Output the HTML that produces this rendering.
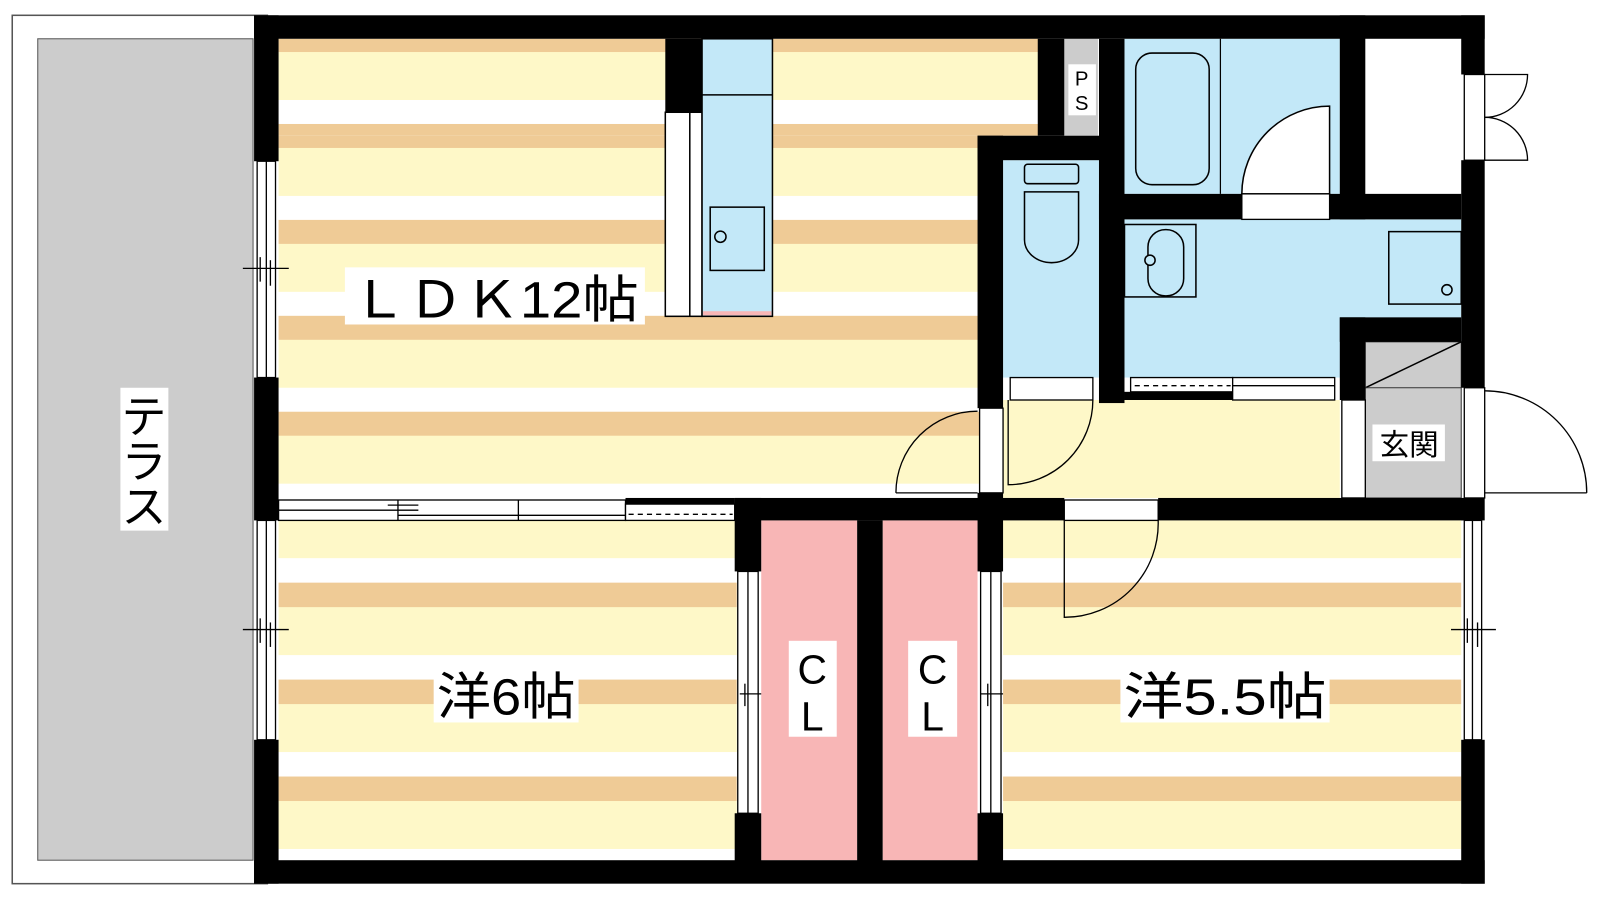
<!DOCTYPE html>
<html><head><meta charset="utf-8"><style>
html,body{margin:0;padding:0;background:#fff;width:1600px;height:900px;overflow:hidden}
svg{display:block}
text{font-family:"Liberation Sans","Noto Sans CJK JP",sans-serif;fill:#000}
</style></head><body>
<svg width="1600" height="900" viewBox="0 0 1568 882" xmlns="http://www.w3.org/2000/svg">
<defs>
<pattern id="pL" patternUnits="userSpaceOnUse" x="0" y="4" width="2000" height="94">
<rect width="2000" height="94" fill="#fef8c8"/><rect width="2000" height="23.5" fill="#fff"/><rect y="23.5" width="2000" height="23.5" fill="#efcb96"/>
</pattern>
<pattern id="pB" patternUnits="userSpaceOnUse" x="0" y="547" width="2000" height="95">
<rect width="2000" height="95" fill="#fef8c8"/><rect width="2000" height="24" fill="#fff"/><rect y="24" width="2000" height="24" fill="#efcb96"/>
</pattern>
</defs>
<!-- terrace -->
<rect x="12" y="15" width="250" height="851" fill="#fff" stroke="#555" stroke-width="1.5"/>
<rect x="37" y="38" width="211" height="805" fill="#ccc" stroke="#555" stroke-width="1"/>
<!-- floors -->
<rect x="273" y="38" width="745" height="95" fill="url(#pL)"/>
<rect x="273" y="133" width="687" height="355" fill="url(#pL)"/>
<rect x="273" y="510" width="449" height="333" fill="url(#pB)"/>
<rect x="983" y="510" width="449" height="333" fill="url(#pB)"/>
<rect x="746" y="510" width="94" height="333" fill="#f8b6b6"/>
<rect x="865" y="510" width="93" height="333" fill="#f8b6b6"/>
<rect x="983" y="392" width="330" height="96" fill="#fef8c8"/>
<rect x="983" y="157" width="94" height="213" fill="#c3e8f8"/>
<rect x="1102" y="38" width="211" height="152" fill="#c3e8f8"/>
<rect x="1102" y="215" width="330" height="155" fill="#c3e8f8"/>
<rect x="1338" y="38" width="94" height="152" fill="#fff"/>
<rect x="1043" y="38" width="33" height="95" fill="#ccc"/>
<rect x="1338" y="335" width="94" height="153" fill="#ccc" stroke="#333" stroke-width="1"/>
<line x1="1338" y1="380" x2="1432" y2="335" stroke="#000" stroke-width="1.5"/>
<line x1="1338" y1="380" x2="1432" y2="380" stroke="#333" stroke-width="1"/>
<!-- kitchen -->
<rect x="652" y="110" width="36" height="200" fill="#fff" stroke="#000" stroke-width="1.5"/>
<line x1="676" y1="110" x2="676" y2="310" stroke="#000" stroke-width="1.5"/>
<rect x="688" y="38" width="69" height="272" fill="#c3e8f8" stroke="#000" stroke-width="1.5"/>
<rect x="689" y="305" width="67" height="4" fill="#f8b6b6"/>
<line x1="688" y1="93" x2="757" y2="93" stroke="#000" stroke-width="1.5"/>
<rect x="696" y="203" width="53" height="62" fill="none" stroke="#000" stroke-width="1.5"/>
<circle cx="706" cy="232" r="5.5" fill="none" stroke="#000" stroke-width="1.5"/>
<!-- bath -->
<rect x="1113" y="52" width="72" height="129" rx="16" fill="none" stroke="#000" stroke-width="1.5"/>
<line x1="1196" y1="38" x2="1196" y2="190" stroke="#000" stroke-width="1.2"/>
<path d="M1303 190 L1217 190 A86 86 0 0 1 1303 104 Z" fill="#fff" stroke="#000" stroke-width="1.5"/>
<!-- toilet -->
<rect x="1004" y="161" width="53" height="19" rx="3" fill="none" stroke="#000" stroke-width="1.5"/>
<path d="M1004 188 L1057 188 L1057 235 A26 22 0 0 1 1004 235 Z" fill="none" stroke="#000" stroke-width="1.5"/>
<!-- washroom fixtures -->
<rect x="1102" y="220" width="70" height="71" fill="none" stroke="#000" stroke-width="1.5"/>
<rect x="1125" y="225" width="35" height="65" rx="17" fill="none" stroke="#000" stroke-width="1.5"/>
<circle cx="1127" cy="255" r="5" fill="#c3e8f8" stroke="#000" stroke-width="1.5"/>
<rect x="1361" y="227" width="71" height="71" fill="none" stroke="#000" stroke-width="1.5"/>
<circle cx="1418" cy="284" r="5" fill="none" stroke="#000" stroke-width="1.5"/>
<!-- walls -->
<g fill="#000">
<rect x="249" y="15" width="1206" height="23"/>
<rect x="249" y="843" width="1206" height="23"/>
<rect x="249" y="15" width="24" height="143"/>
<rect x="249" y="370" width="24" height="140"/>
<rect x="249" y="725" width="24" height="141"/>
<rect x="1432" y="15" width="23" height="58"/>
<rect x="1432" y="157" width="23" height="223"/>
<rect x="1432" y="488" width="23" height="22"/>
<rect x="1432" y="725" width="23" height="141"/>
<rect x="652" y="38" width="36" height="72"/>
<rect x="1017" y="38" width="26" height="95"/>
<rect x="958" y="133" width="144" height="24"/>
<rect x="958" y="133" width="25" height="267"/>
<rect x="1077" y="38" width="25" height="357"/>
<rect x="1313" y="15" width="25" height="200"/>
<rect x="1077" y="190" width="140" height="25"/>
<rect x="1303" y="190" width="129" height="25"/>
<rect x="1313" y="311" width="119" height="24"/>
<rect x="1313" y="311" width="25" height="81"/>
<rect x="958" y="483" width="25" height="27"/>
<rect x="720" y="488" width="323" height="22"/>
<rect x="1135" y="488" width="300" height="22"/>
<rect x="613" y="488" width="107" height="6"/>
<rect x="720" y="488" width="26" height="72"/>
<rect x="720" y="797" width="26" height="60"/>
<rect x="840" y="510" width="25" height="340"/>
<rect x="958" y="488" width="25" height="72"/>
<rect x="958" y="797" width="25" height="60"/>
<rect x="1102" y="384" width="106" height="8"/>
</g>
<!-- windows left -->
<g fill="#fff" stroke="#000" stroke-width="1.3">
<rect x="252" y="158" width="18" height="212"/>
<rect x="252" y="510" width="18" height="215"/>
<rect x="1435" y="510" width="17" height="215"/>
<rect x="723" y="560" width="20" height="237"/>
<rect x="961" y="560" width="20" height="237"/>
<rect x="1435" y="73" width="20" height="84"/>
<rect x="1435" y="380" width="20" height="108"/>
<rect x="1315" y="392" width="23" height="96"/>
<rect x="960" y="400" width="23" height="83"/>
<rect x="990" y="370" width="81" height="22"/>
<rect x="1217" y="190" width="86" height="25"/>
<rect x="1043" y="490" width="92" height="20"/>
<rect x="273" y="490" width="340" height="20"/>
<rect x="613" y="494" width="107" height="16"/>
<rect x="1108" y="370" width="100" height="14"/>
<rect x="1208" y="370" width="100" height="22"/>
</g>
<g stroke="#000" stroke-width="1.3" fill="none">
<line x1="261" y1="158" x2="261" y2="370"/><line x1="261" y1="510" x2="261" y2="725"/>
<line x1="238" y1="263" x2="283" y2="263"/><line x1="255" y1="252" x2="255" y2="276"/><line x1="265" y1="255" x2="265" y2="280"/>
<line x1="238" y1="617" x2="283" y2="617"/><line x1="255" y1="606" x2="255" y2="630"/><line x1="265" y1="610" x2="265" y2="634"/>
<line x1="1443" y1="510" x2="1443" y2="725"/><line x1="1422" y1="617" x2="1466" y2="617"/><line x1="1438" y1="606" x2="1438" y2="630"/><line x1="1448" y1="610" x2="1448" y2="634"/>
<line x1="733" y1="560" x2="733" y2="797"/><line x1="725" y1="680" x2="746" y2="680"/><line x1="730" y1="670" x2="730" y2="692"/>
<line x1="971" y1="560" x2="971" y2="797"/><line x1="961" y1="680" x2="983" y2="680"/><line x1="968" y1="670" x2="968" y2="692"/>
<line x1="273" y1="500" x2="410" y2="500"/><line x1="390" y1="505" x2="613" y2="505"/><line x1="390" y1="490" x2="390" y2="510"/><line x1="508" y1="490" x2="508" y2="510"/><line x1="380" y1="495" x2="410" y2="495"/>
<line x1="616" y1="504" x2="718" y2="504" stroke-dasharray="5,4"/>
<line x1="1112" y1="378" x2="1206" y2="378" stroke-dasharray="5,4"/>
<line x1="1208" y1="378" x2="1308" y2="378"/>
<line x1="1455" y1="115" x2="1455" y2="115"/>
<!-- doors -->
<path d="M878 483 L958 483 M878 483 A80 80 0 0 1 958 403"/>
<path d="M988 392 L988 475 A83 83 0 0 0 1071 392"/>
<path d="M1043 510 L1043 605 A92 92 0 0 0 1135 510"/>
<path d="M1455 483 L1555 483 M1555 483 A100 100 0 0 0 1455 383"/>
<path d="M1455 73 L1497 73 A42 42 0 0 1 1455 115 M1455 157 L1497 157 A42 42 0 0 0 1455 115"/>
</g>
<!-- labels -->
<rect x="338" y="262" width="294" height="56" fill="#fff"/>
<text x="344" y="311" font-size="50" textLength="282" lengthAdjust="spacingAndGlyphs">ＬＤＫ12帖</text>
<rect x="425" y="652" width="142" height="56" fill="#fff"/>
<text x="428" y="700" font-size="50" textLength="136" lengthAdjust="spacingAndGlyphs">洋6帖</text>
<rect x="1098" y="652" width="205" height="56" fill="#fff"/>
<text x="1101" y="700" font-size="50" textLength="199" lengthAdjust="spacingAndGlyphs">洋5.5帖</text>
<rect x="773" y="628" width="47" height="94" fill="#fff"/>
<text x="796" y="670" font-size="40" text-anchor="middle">C</text>
<text x="796" y="716" font-size="40" text-anchor="middle">L</text>
<rect x="890" y="628" width="48" height="94" fill="#fff"/>
<text x="914" y="670" font-size="40" text-anchor="middle">C</text>
<text x="914" y="716" font-size="40" text-anchor="middle">L</text>
<rect x="118" y="380" width="47" height="140" fill="#fff"/>
<text x="141" y="424" font-size="44" text-anchor="middle">テ</text>
<text x="141" y="468" font-size="44" text-anchor="middle">ラ</text>
<text x="141" y="512" font-size="44" text-anchor="middle">ス</text>
<rect x="1047" y="63" width="27" height="50" fill="#fff"/>
<text x="1060" y="84" font-size="20" text-anchor="middle">P</text>
<text x="1060" y="108" font-size="20" text-anchor="middle">S</text>
<rect x="1345" y="416" width="71" height="36" fill="#fff"/>
<text x="1381" y="446" font-size="29" text-anchor="middle">玄関</text>
</svg>
</body></html>
